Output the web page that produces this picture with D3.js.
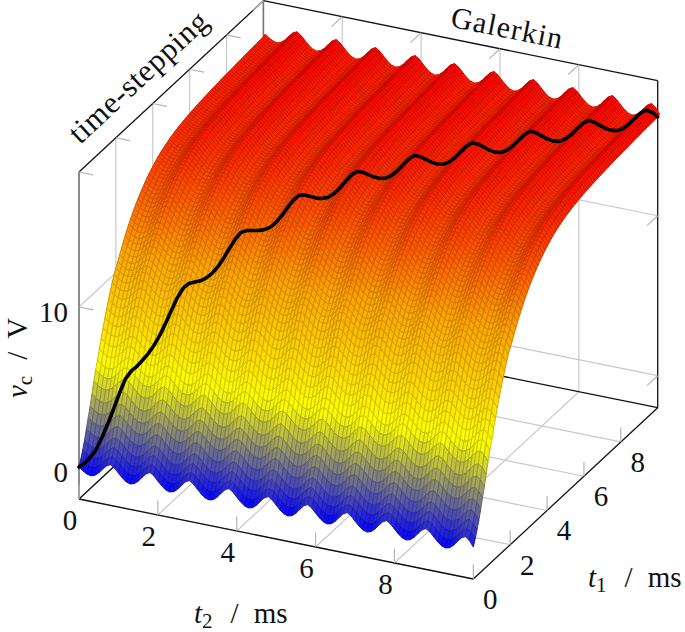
<!DOCTYPE html>
<html>
<head>
<meta charset="utf-8">
<script src="https://cdn.jsdelivr.net/npm/d3@7"></script>
<style>
  html, body { margin: 0; padding: 0; background: #fff; }
  text { font-family: "Liberation Serif", serif; fill: #111; }
</style>
</head>
<body>
<svg id="chart" width="685" height="632"></svg>
<script>
const charge = [
  0, .4, .85, 1.35, 1.95, 2.55, 3.15, 3.8, 4.5, 5.1, 5.6,
  6.2, 6.75, 7.3, 7.8, 8.3, 8.75, 9.2, 9.6, 10.0, 10.3,
  10.58, 10.90, 11.20, 11.49, 11.77, 12.03, 12.28, 12.52, 12.74, 12.95,
  13.15, 13.34, 13.51, 13.68, 13.84, 13.99, 14.13, 14.26, 14.39, 14.50,
  14.61, 14.72, 14.81, 14.90, 14.98, 15.05, 15.12, 15.18, 15.24, 15.30,
  15.35, 15.40, 15.44, 15.48, 15.52, 15.55, 15.58, 15.61, 15.64, 15.67,
  15.70, 15.72, 15.74, 15.76, 15.78, 15.80, 15.82, 15.84, 15.85, 15.87,
  15.88, 15.90, 15.91, 15.93, 15.94, 15.95, 15.97, 15.98, 15.99, 16.00,
  16.01, 16.02, 16.03, 16.04, 16.05, 16.06, 16.07, 16.08, 16.09, 16.10,
  16.11, 16.12, 16.13, 16.13, 16.14, 16.15, 16.16, 16.16, 16.17, 16.18, 16.25
];
const ripple = [
  0, -.2, -.34, -.4, -.32, -.12, .16, .42, .54, .38,
  .12, -.14, -.33, -.41, -.34, -.14, .15, .42, .55, .39,
  .12, -.14, -.33, -.41, -.34, -.14, .15, .42, .55, .39,
  .12, -.14, -.33, -.41, -.34, -.14, .15, .42, .55, .39,
  .12, -.14, -.33, -.41, -.34, -.14, .15, .42, .55, .39,
  .12, -.14, -.33, -.41, -.34, -.14, .15, .42, .55, .39,
  .12, -.14, -.33, -.41, -.34, -.14, .15, .42, .55, .39,
  .12, -.14, -.33, -.41, -.34, -.14, .15, .42, .55, .39,
  .12, -.14, -.33, -.41, -.34, -.14, .15, .42, .55, .39,
  .12, -.14, -.33, -.41, -.34, -.14, .15, .42, .55, .36, 0
];
const t1Ticks = [0, 2, 4, 6, 8];
const t2Ticks = [0, 2, 4, 6, 8];
const zTicks = [0, 10];
const hotColors = ["blue", "yellow", "orange", "red"];

const svg = d3.select("#chart");
const originX = 79, originY = 499;

// oblique view: every data axis is one straight screen vector
const t2X = d3.scaleLinear().domain([0, 10]).range([0, 394.3]);
const t2Y = d3.scaleLinear().domain([0, 10]).range([0, 80]);
const t1X = d3.scaleLinear().domain([0, 10]).range([0, 184.4]);
const t1Y = d3.scaleLinear().domain([0, 10]).range([0, -171.3]);
const zY = d3.scaleLinear().domain([-2, 18.44]).range([0, -327]);
const zMin = -2, zMax = 18.44;

function px(t1, t2, z) {
  return [originX + t2X(t2) + t1X(t1), originY + t2Y(t2) + t1Y(t1) + zY(z)];
}
const line3 = d3.line();
function seg(g, a, b, color, w) {
  g.append("path").attr("d", line3([px(...a), px(...b)]))
    .attr("fill", "none").attr("stroke", color).attr("stroke-width", w);
}

const grid = svg.append("g");
const gridColor = "#c8c8c8", gridW = 1.2;

// floor and wall grid
t2Ticks.forEach(function(t) {
  seg(grid, [0, t, zMin], [10, t, zMin], gridColor, gridW);
  seg(grid, [10, t, zMin], [10, t, zMax], gridColor, gridW);
});
t1Ticks.forEach(function(t) {
  seg(grid, [t, 0, zMin], [t, 10, zMin], gridColor, gridW);
  seg(grid, [t, 0, zMin], [t, 0, zMax], gridColor, gridW);
});
zTicks.forEach(function(z) {
  seg(grid, [0, 0, z], [10, 0, z], gridColor, gridW);
  seg(grid, [10, 0, z], [10, 10, z], gridColor, gridW);
});

// box
const box = svg.append("g");
const boxW = 1.3;
seg(box, [0, 0, zMin], [0, 10, zMin], "#111", boxW);
seg(box, [0, 10, zMin], [10, 10, zMin], "#111", boxW);
seg(box, [0, 0, zMin], [10, 0, zMin], "#111", boxW);
seg(box, [10, 0, zMin], [10, 10, zMin], "#111", boxW);
seg(box, [0, 0, zMax], [10, 0, zMax], "#111", boxW);
seg(box, [10, 0, zMax], [10, 10, zMax], "#111", boxW);
seg(box, [10, 10, zMin], [10, 10, zMax], "#111", boxW);
seg(box, [0, 0, zMin], [0, 0, zMax], "#777", boxW + .3);
seg(box, [10, 0, zMin], [10, 0, zMax], "#777", boxW + .3);

// small tick marks
const tickColor = "#b4b4b4";
t2Ticks.forEach(function(t) {
  seg(box, [0, t, zMin], [0, t, zMin + .9], tickColor, gridW);
  seg(box, [10, t, zMax], [9.42, t, zMax], tickColor, gridW);
});
t1Ticks.forEach(function(t) {
  seg(box, [t, 10, zMin], [t, 10, zMin + .9], tickColor, gridW);
  seg(box, [t, 0, zMax], [t, .36, zMax], tickColor, gridW);
});
zTicks.forEach(function(z) {
  seg(box, [0, 0, z], [0, .36, z], tickColor, gridW);
  seg(box, [10, 10, z], [9.42, 10, z], tickColor, gridW);
});

// surface cells, back row first
const zOf = (i, j) => charge[i] + ripple[j];
const allZ = charge.flatMap((c, i) => ripple.map((r, j) => zOf(i, j)));
const lo = d3.min(allZ), hi = d3.max(allZ);
const color = d3.scaleLinear()
  .domain(hotColors.map((c, k) => lo + (hi - lo) * k / 3))
  .range(hotColors)
  .interpolate(d3.interpolateRgb);

const cells = [];
for (let i = charge.length - 2; i >= 0; i--) {
  for (let j = 0; j < ripple.length - 1; j++) {
    cells.push([i, j]);
  }
}
const cellStep = 0.1;
const cellColor = function(c) {
  const i = c[0], j = c[1];
  return d3.rgb(color((zOf(i, j) + zOf(i, j + 1) + zOf(i + 1, j + 1) + zOf(i + 1, j)) / 4));
};
svg.append("g").selectAll("path")
  .data(cells)
  .join("path")
  .attr("d", function(c) {
    const i = c[0], j = c[1];
    return line3([
      px(i * cellStep, j * cellStep, zOf(i, j)),
      px(i * cellStep, (j + 1) * cellStep, zOf(i, j + 1)),
      px((i + 1) * cellStep, (j + 1) * cellStep, zOf(i + 1, j + 1)),
      px((i + 1) * cellStep, j * cellStep, zOf(i + 1, j))
    ]) + "Z";
  })
  .attr("fill", cellColor)
  .attr("stroke", function(c) {
    const m = cellColor(c);
    return d3.rgb(m.r * .8, m.g * .8, m.b * .8);
  })
  .attr("stroke-width", 1)
  .attr("stroke-linejoin", "round");

// black diagonal t1 = t2
svg.append("path")
  .attr("d", line3(charge.map((c, i) => px(i * cellStep, i * cellStep, c + ripple[i]))))
  .attr("fill", "none").attr("stroke", "#000").attr("stroke-width", 3.6)
  .attr("stroke-linejoin", "round").attr("stroke-linecap", "round");

// tick labels
const labels = svg.append("g").attr("font-size", 29);
t2Ticks.forEach(function(t) {
  const p = px(0, t, zMin);
  labels.append("text").attr("x", p[0] - 9).attr("y", p[1] + 31)
    .attr("text-anchor", "middle").text(t);
});
t1Ticks.forEach(function(t) {
  const p = px(t, 10, zMin);
  labels.append("text").attr("x", p[0] + 17).attr("y", p[1] + 30)
    .attr("text-anchor", "middle").text(t);
});
zTicks.forEach(function(z) {
  const p = px(0, 0, z);
  labels.append("text").attr("x", p[0] - 11).attr("y", p[1] + 15)
    .attr("text-anchor", "end").text(z);
});

function axisLabel(x, y, rot, name, sub, unit, gap1, gap2) {
  const t = svg.append("text").attr("font-size", 29)
    .attr("transform", "translate(" + x + "," + y + ") rotate(" + rot + ")");
  t.append("tspan").attr("font-style", "italic").text(name);
  t.append("tspan").attr("font-size", 21).attr("dy", 5).text(sub);
  t.append("tspan").attr("dy", -5).attr("dx", gap1).text("/");
  t.append("tspan").attr("dx", gap2).text(unit);
}
axisLabel(194, 623, 0, "t", "2", "ms", 18, 15);
axisLabel(588, 587, 0, "t", "1", "ms", 18, 15);
axisLabel(26.5, 398, -90, "v", "c", "V", 16, 13);

// wall captions
svg.append("text").attr("font-size", 31).attr("textLength", 178)
  .attr("transform", "translate(80,145) rotate(-42.9)").text("time-stepping");
svg.append("text").attr("font-size", 30).attr("textLength", 113)
  .attr("transform", "translate(449.5,26.5) rotate(11.4)").text("Galerkin");
</script>
</body>
</html>
